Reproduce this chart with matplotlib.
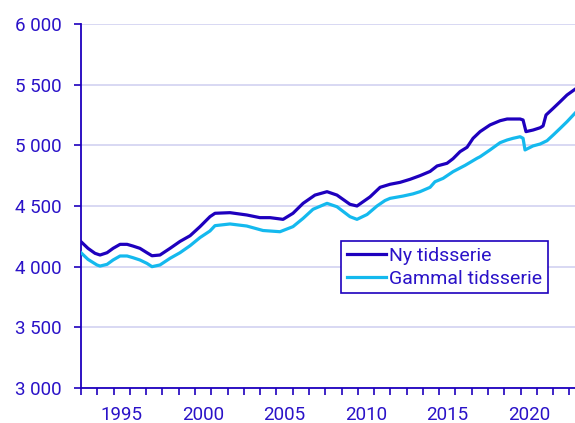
import numpy as np
import matplotlib
matplotlib.use("Agg")
import matplotlib.pyplot as plt
from matplotlib.ticker import FuncFormatter, MultipleLocator

plt.rcParams['font.family'] = ['Roboto', 'DejaVu Sans']

# colours
dark_blue = '#1e00be'
light_blue = '#14b9ee'
text_col = '#2a12c8'
grid_col = '#d6d6f2'

# Ny tidsserie (year, value)
ny_years = [1993.00, 1993.43, 1993.86, 1994.17, 1994.60, 1994.97, 1995.40, 1995.83,
            1996.19, 1996.62, 1997.05, 1997.36, 1997.85, 1998.47, 1999.08, 1999.70,
            2000.31, 2000.92, 2001.23, 2002.15, 2003.18, 2003.99, 2004.61, 2005.41,
            2006.02, 2006.64, 2007.37, 2008.11, 2008.72, 2009.52, 2009.95, 2010.75,
            2011.37, 2011.98, 2012.60, 2013.21, 2013.82, 2014.44, 2014.87, 2015.48,
            2015.85, 2016.28, 2016.71, 2017.08, 2017.51, 2018.12, 2018.74, 2019.17,
            2019.97, 2020.15, 2020.33, 2020.76, 2021.20, 2021.38, 2021.56, 2022.00,
            2022.43, 2022.85, 2023.34]
ny_values = [4206, 4151, 4110, 4096, 4115, 4151, 4184, 4184,
             4170, 4151, 4115, 4090, 4096, 4151, 4208, 4255,
             4330, 4412, 4440, 4445, 4426, 4404, 4404, 4390,
             4440, 4522, 4590, 4618, 4590, 4514, 4500, 4575,
             4654, 4679, 4695, 4720, 4750, 4785, 4830, 4852,
             4890, 4948, 4984, 5058, 5113, 5168, 5203, 5217,
             5217, 5209, 5113, 5126, 5145, 5160, 5250, 5305,
             5360, 5415, 5462]

# Gammal tidsserie (year, value)
gammal_years = [1993.00, 1993.43, 1993.98, 1994.17, 1994.60, 1994.97, 1995.40, 1995.83,
                1996.19, 1996.62, 1997.05, 1997.36, 1997.85, 1998.47, 1999.08, 1999.70,
                2000.31, 2000.92, 2001.23, 2002.15, 2003.18, 2004.18, 2005.22, 2006.02,
                2006.64, 2007.25, 2008.11, 2008.72, 2009.52, 2009.95, 2010.57, 2011.18,
                2011.67, 2011.98, 2012.78, 2013.39, 2013.82, 2014.44, 2014.74, 2015.24,
                2015.85, 2016.59, 2017.32, 2017.51, 2018.12, 2018.74, 2019.17, 2019.54,
                2019.97, 2020.15, 2020.27, 2020.76, 2021.20, 2021.62, 2022.00, 2022.43,
                2022.85, 2023.34]
gammal_values = [4115, 4060, 4014, 4005, 4019, 4055, 4088, 4088,
                 4074, 4055, 4027, 4000, 4014, 4069, 4115, 4173,
                 4240, 4294, 4338, 4352, 4335, 4298, 4288, 4330,
                 4398, 4473, 4522, 4494, 4412, 4390, 4430, 4500,
                 4545, 4563, 4582, 4600, 4618, 4654, 4700, 4728,
                 4783, 4835, 4893, 4906, 4962, 5022, 5044, 5058,
                 5071, 5058, 4962, 4995, 5011, 5038, 5085, 5140,
                 5195, 5265]

year_labels = [1995, 2000, 2005, 2010, 2015, 2020]
y_ticks = [3000, 3500, 4000, 4500, 5000, 5500, 6000]

fig = plt.figure(figsize=(5.75, 4.23), dpi=100)
ax = fig.add_axes([81 / 575, 35 / 423, 494 / 575, 364 / 423])

ax.plot(ny_years, ny_values, color=dark_blue, lw=2.3, label='Ny tidsserie',
        solid_joinstyle='round', zorder=3)
ax.plot(gammal_years, gammal_values, color=light_blue, lw=2.3, label='Gammal tidsserie',
        solid_joinstyle='round', zorder=3)

ax.set_xlim(1993, 2023.34)
ax.set_ylim(3000, 6000)

# y axis
ax.set_yticks(y_ticks)
ax.yaxis.set_major_formatter(FuncFormatter(lambda v, p: '{:,.0f}'.format(v).replace(',', ' ')))
ax.grid(axis='y', color=grid_col, lw=1.3, zorder=0)
ax.set_axisbelow(True)

# x axis: tick marks at each year, labels centred in the year
ax.xaxis.set_minor_locator(MultipleLocator(1))
ax.set_xticks([y + 0.5 for y in year_labels])
ax.set_xticklabels([str(y) for y in year_labels])
ax.tick_params(axis='x', which='major', length=0, pad=13, labelsize=13.5, labelcolor=text_col)
ax.tick_params(axis='x', which='minor', length=5, width=1.2, color=dark_blue)
ax.tick_params(axis='y', length=5, width=1.2, color=dark_blue, pad=9,
               labelsize=13.5, labelcolor=text_col)

for side in ['top', 'right']:
    ax.spines[side].set_visible(False)
for side in ['left', 'bottom']:
    ax.spines[side].set_color(dark_blue)
    ax.spines[side].set_linewidth(1.3)

leg = ax.legend(loc='upper right', bbox_to_anchor=(0.945, 0.404), borderaxespad=0,
                fontsize=14, frameon=True, fancybox=False, framealpha=1,
                edgecolor=dark_blue, handlelength=2.0, handletextpad=0.15,
                labelspacing=0.25, borderpad=0.3)
leg.get_frame().set_linewidth(1.2)
for t in leg.get_texts():
    t.set_color(text_col)
for h in leg.get_lines():
    h.set_linewidth(2.3)

fig.savefig('out.png', dpi=100)
